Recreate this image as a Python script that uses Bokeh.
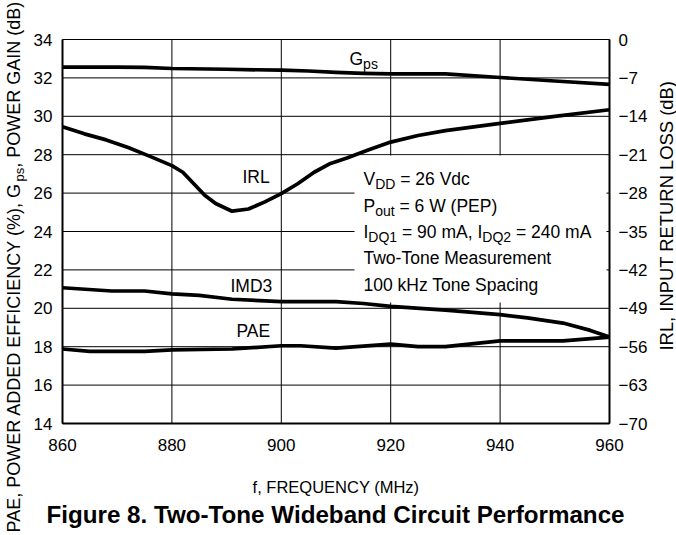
from math import pi
from bokeh.plotting import figure
from bokeh.models import Range1d, LinearAxis, FixedTicker, Label, ColumnDataSource
from bokeh.core.properties import value
from bokeh.embed import file_html
from bokeh.resources import INLINE

# ---------------- data ----------------
gps_freq = [860, 865, 870, 875, 880, 890, 900, 905, 910, 915, 920, 930, 940, 950, 960]
gps_db = [32.56, 32.56, 32.56, 32.55, 32.49, 32.45, 32.40, 32.36, 32.29, 32.24, 32.21, 32.21, 32.02, 31.84, 31.66]

irl_freq = [860, 864, 868, 872, 876, 880, 882, 884, 886, 888, 891, 894, 897, 900, 903, 906, 909,
            912, 916, 920, 925, 930, 940, 950, 960]
irl_db = [-15.9, -17.2, -18.3, -19.7, -21.3, -23.0, -24.2, -26.3, -28.4, -29.9, -31.3, -30.9,
          -29.6, -28.1, -26.3, -24.2, -22.6, -21.6, -20.1, -18.7, -17.5, -16.6, -15.3, -14.0, -12.8]

imd3_freq = [860, 869, 875, 880, 885, 891, 900, 910, 915, 920, 930, 940, 945, 951.5, 956.5, 960]
imd3_val = [21.07, 20.90, 20.90, 20.75, 20.67, 20.47, 20.35, 20.35, 20.25, 20.10, 19.90, 19.67, 19.50, 19.23, 18.85, 18.50]

pae_freq = [860, 865, 875, 880, 891, 900, 903.5, 910, 920, 925, 930, 940, 951.5, 960]
pae_pct = [17.88, 17.76, 17.76, 17.83, 17.88, 18.05, 18.05, 17.93, 18.13, 18.00, 18.00, 18.30, 18.30, 18.50]

x_ticks = [860, 880, 900, 920, 940, 960]
left_ticks = [14, 16, 18, 20, 22, 24, 26, 28, 30, 32, 34]
right_ticks = [-70, -63, -56, -49, -42, -35, -28, -21, -14, -7, 0]
right_tick_labels = ["\u221270", "\u221263", "\u221256", "\u221249", "\u221242", "\u221235",
                     "\u221228", "\u221221", "\u221214", "\u22127", "0"]

# ---------------- layout (pixels) ----------------
WIDTH, HEIGHT = 676, 535
FL, FR, FT, FB = 62, 609, 39, 423          # plot area box in pixels
X0, X1 = 860, 960
Y0, Y1 = 14, 34
R0, R1 = -70, 0
kx = (X1 - X0) / (FR - FL)
ky = (Y1 - Y0) / (FB - FT)
kr = (R1 - R0) / (FB - FT)
BASE = 0.36        # baseline correction, fraction of font size


def dx(px):
    return X0 + (px - FL) * kx


def dy(py):
    return Y1 - (py - FT) * ky


# ---------------- text metrics (Arial / Liberation Sans) ----------------
W = {' ': 278, '!': 278, '(': 333, ')': 333, ',': 278, '-': 333, '.': 278, '%': 889, '=': 584,
     '\u2212': 584, 'A': 667, 'B': 667, 'C': 722, 'D': 722, 'E': 667, 'F': 611, 'G': 778,
     'H': 722, 'I': 278, 'L': 556, 'M': 833, 'N': 722, 'O': 778, 'P': 667, 'Q': 778, 'R': 722,
     'S': 667, 'T': 611, 'U': 722, 'V': 667, 'W': 944, 'Y': 667, 'a': 556, 'c': 500, 'd': 556,
     'e': 556, 'g': 556, 'i': 222, 'k': 500, 'm': 833, 'n': 556, 'o': 556, 'p': 556, 'r': 333,
     's': 500, 't': 278, 'u': 556, 'w': 722, 'z': 500}
for ch in "0123456789":
    W[ch] = 556


def tw(s, size):
    return sum(W.get(c, 556) for c in s) * size / 1000.0


FONT = "Liberation Sans"
MAIN = 17.5
SUB = 14

# ---------------- figure (frame = whole canvas, axes at fixed locations) ----------------
p = figure(width=WIDTH, height=HEIGHT,
           x_range=Range1d(dx(0), dx(WIDTH)), y_range=Range1d(dy(HEIGHT), dy(0)),
           output_backend="svg", toolbar_location=None,
           min_border_left=0, min_border_right=0, min_border_top=0, min_border_bottom=0)
p.title.visible = False
p.background_fill_color = "white"
p.border_fill_color = "white"
p.outline_line_color = None
p.extra_y_ranges = {"irl": Range1d(R0 - (HEIGHT - FB) * kr, R1 + FT * kr)}
p.xgrid.visible = False
p.ygrid.visible = False


def style_axis(ax, standoff):
    ax.major_tick_line_color = None
    ax.minor_tick_line_color = None
    ax.axis_line_width = 2
    ax.axis_line_color = "black"
    ax.major_label_text_font = FONT
    ax.major_label_text_font_size = "17px"
    ax.major_label_text_color = "black"
    ax.major_label_standoff = standoff


xax = p.xaxis[0]
xax.ticker = FixedTicker(ticks=x_ticks)
xax.fixed_location = Y0
xax.bounds = (X0, X1)
style_axis(xax, 9)

yax = p.yaxis[0]
yax.ticker = FixedTicker(ticks=left_ticks)
yax.fixed_location = X0
yax.bounds = (Y0, Y1)
style_axis(yax, 4)

rax = LinearAxis(y_range_name="irl", ticker=FixedTicker(ticks=right_ticks))
rax.fixed_location = X1
rax.bounds = (R0, R1)
rax.major_label_overrides = {t: lab for t, lab in zip(right_ticks, right_tick_labels)}
style_axis(rax, 3)
p.add_layout(rax, "right")

# grid lines (at the tick positions, inside the plot box)
p.segment(x0=x_ticks, y0=[Y0] * len(x_ticks), x1=x_ticks, y1=[Y1] * len(x_ticks),
          line_color="black", line_width=1)
p.segment(x0=[X0] * len(left_ticks), y0=left_ticks, x1=[X1] * len(left_ticks), y1=left_ticks,
          line_color="black", line_width=1)

# white box behind the conditions text
p.quad(left=[dx(354)], right=[dx(606)], bottom=[dy(302)], top=[dy(155)],
       fill_color="white", line_color=None)

# curves
LW = 3.7
p.line(gps_freq, gps_db, line_color="black", line_width=LW, line_join="round")
p.line(irl_freq, irl_db, line_color="black", line_width=LW, line_join="round", y_range_name="irl")
p.line(imd3_freq, imd3_val, line_color="black", line_width=LW, line_join="round")
p.line(pae_freq, pae_pct, line_color="black", line_width=LW, line_join="round")

# ---------------- in-plot text (with subscripts) ----------------
rows = dict(x=[], y=[], text=[], size=[], xo=[], yo=[])


def add_line(x, y, segments, line_dy=0.0):
    xo = 0.0
    for s, sub in segments:
        size = SUB if sub else MAIN
        lead = len(s) - len(s.lstrip(" "))
        xo += tw(" " * lead, size)
        s = s.lstrip(" ")
        rows["x"].append(x)
        rows["y"].append(y)
        rows["text"].append(s)
        rows["size"].append(f"{size}px")
        rows["xo"].append(xo)
        rows["yo"].append(line_dy + (4 if sub else 0) - BASE * size)
        xo += tw(s, size)


add_line(dx(349), dy(65), [("G", False), ("ps", True)])
add_line(dx(242), dy(183), [("IRL", False)])
add_line(dx(230), dy(292), [("IMD3", False)])
add_line(dx(236), dy(336.5), [("PAE", False)])

BX, BY, LH = dx(363), dy(185), 26.4
add_line(BX, BY, [("V", False), ("DD", True), (" = 26 Vdc", False)], 0)
add_line(BX, BY, [("P", False), ("out", True), (" = 6 W (PEP)", False)], LH)
add_line(BX, BY, [("I", False), ("DQ1", True), (" = 90 mA, I", False), ("DQ2", True),
                  (" = 240 mA", False)], 2 * LH)
add_line(BX, BY, [("Two-Tone Measurement", False)], 3 * LH)
add_line(BX, BY, [("100 kHz Tone Spacing", False)], 4 * LH)

src = ColumnDataSource(rows)
p.text(x="x", y="y", text="text", source=src, x_offset="xo", y_offset="yo",
       text_font=value(FONT), text_font_size="size", text_color="black",
       text_align="left", text_baseline="alphabetic")

# ---------------- axis titles & caption ----------------
LS, LSUB = 18, 13
left_segments = [("PAE, POWER ADDED EFFICIENCY (%), G", False), ("ps", True),
                 (", POWER GAIN (dB)", False)]
ypos = 532.0
for s, sub in left_segments:
    size = LSUB if sub else LS
    bx = 20 + (3.5 if sub else 0) - BASE * size
    p.add_layout(Label(x=dx(bx), y=dy(ypos), text=s, angle=pi / 2,
                       text_font=FONT, text_font_size=f"{size}px", text_color="black",
                       text_align="left", text_baseline="alphabetic"))
    ypos -= tw(s, size)

p.add_layout(Label(x=dx(673 - BASE * 18.4), y=dy(350), text="IRL, INPUT RETURN LOSS (dB)",
                   angle=pi / 2, text_font=FONT, text_font_size="18.4px", text_color="black",
                   text_align="left", text_baseline="alphabetic"))

p.add_layout(Label(x=dx(335.5), y=dy(492 - BASE * 16.5), text="f, FREQUENCY (MHz)",
                   text_font=FONT, text_font_size="16.5px", text_color="black",
                   text_align="center", text_baseline="alphabetic"))

p.add_layout(Label(x=dx(335), y=dy(523 - BASE * 24.2),
                   text="Figure 8. Two-Tone Wideband Circuit Performance",
                   text_font=FONT, text_font_size="24.2px", text_font_style="bold",
                   text_color="black", text_align="center", text_baseline="alphabetic"))

open("out.html", "w").write(file_html(p, INLINE))
